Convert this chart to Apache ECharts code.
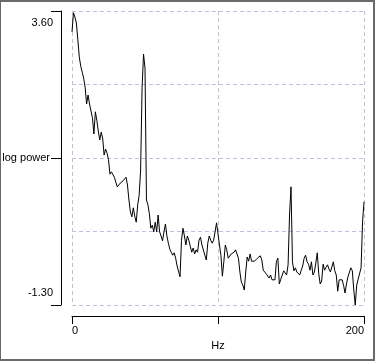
<!DOCTYPE html>
<html>
<head>
<meta charset="utf-8">
<script src="https://cdn.jsdelivr.net/npm/echarts@6/dist/echarts.min.js"></script>
<style>
  html, body { margin: 0; padding: 0; background: #fff; }
  #wrap { position: relative; width: 375px; height: 361px; }
  #chart { position: absolute; left: 0; top: 0; width: 375px; height: 361px; }
  #frame { position: absolute; left: 0; top: 0; width: 375px; height: 361px; box-sizing: border-box;
           border: 2px solid #6a6a6a; border-left-width: 1px; pointer-events: none; }
</style>
</head>
<body>
<div id="wrap"><div id="chart"></div><div id="frame"></div></div>
<script>
// Log power spectrum, 0..200 Hz (1 Hz steps)
const power = [
  3.25, 3.57, 3.50, 3.40, 3.12, 2.83, 2.68, 2.58, 2.48, 2.33,
  2.05, 2.20, 2.05, 2.07, 1.82, 1.55, 1.92, 1.78, 1.60, 1.45,
  1.58, 1.48, 1.20, 1.30, 1.23, 1.12, 0.88, 0.92, 0.92, 0.83,
  0.80, 0.67, 0.68, 0.73, 0.75, 0.77, 0.80, 0.83, 0.70, 0.45,
  0.25, 0.17, 0.32, 0.18, 0.08, 0.37, 0.53, 0.95, 2.32, 2.88,
  2.65, 0.45, 0.37, 0.22, -0.02, 0.03, -0.08, 0.08, -0.08, 0.20,
  -0.08, -0.15, -0.23, -0.08, 0.05, -0.15, -0.27, -0.37, -0.42, -0.47,
  -0.43, -0.52, -0.65, -0.68, -0.83, -0.22, -0.02, -0.15, -0.30, -0.15,
  -0.22, -0.32, -0.42, -0.35, -0.45, -0.38, -0.42, -0.22, -0.17, -0.30,
  -0.33, -0.47, -0.55, -0.27, -0.15, -0.22, -0.27, -0.22, -0.08, 0.07,
  0.07, -0.30, -0.47, -0.82, -0.58, -0.30, -0.38, -0.52, -0.55, -0.45,
  -0.48, -0.42, -0.38, -0.37, -0.52, -0.75, -0.92, -0.97, -1.05, -0.75,
  -0.50, -0.57, -0.45, -0.57, -0.58, -0.57, -0.55, -0.52, -0.50, -0.48,
  -0.55, -0.72, -0.72, -0.78, -0.75, -0.85, -0.80, -0.88, -0.90, -0.88,
  -0.58, -0.52, -0.95, -0.87, -0.80, -0.73, -0.75, -0.80, -0.63, 0.20,
  0.67, -0.58, -0.73, -0.68, -0.75, -0.72, -0.80, -0.72, -0.65, -0.52,
  -0.47, -0.58, -0.62, -0.72, -0.58, -0.80, -0.75, -0.60, -0.43, -0.78,
  -0.95, -0.90, -0.62, -0.72, -0.67, -0.63, -0.70, -0.75, -0.78, -0.58,
  -0.73, -0.80, -1.07, -0.88, -0.87, -0.88, -0.97, -1.10, -0.95, -0.83,
  -0.83, -0.68, -0.73, -1.05, -1.30, -0.97, -0.87, -0.90, -0.68, 0.08,
  0.42
];
const freqStep = 1; // Hz per sample
const freqs = power.map((_, i) => i * freqStep);

const xTickValues = [0, 100, 200];
const xLabelValues = [0, 200];
const xLabels = ['0', '200'];
const xName = 'Hz';

const yMin = -1.3, yMax = 3.6;
const yTickValues = [-1.3, 1.15, 3.6];
const yLabels = ['-1.30', 'log power', '3.60'];

const FONT = "'Liberation Sans', Arial, sans-serif";
const gridColor = '#c4bddb';

const chart = echarts.init(document.getElementById('chart'), null, { renderer: 'canvas' });
chart.setOption({
  animation: false,
  backgroundColor: '#fff',
  grid: { left: 72, right: 11, top: 11, bottom: 56, containLabel: false, outerBoundsMode: 'none' },
  xAxis: [{
    type: 'value', min: 0, max: 200, interval: 50, offset: 11,
    axisLine: { show: true, onZero: false, lineStyle: { color: '#000', width: 1 } },
    axisTick: { show: true, customValues: xTickValues, length: 8, lineStyle: { color: '#000', width: 1 } },
    axisLabel: {
      customValues: xLabelValues, color: '#000', fontSize: 11, fontFamily: FONT, margin: 9,
      alignMinLabel: 'left', alignMaxLabel: 'right',
      formatter: v => xLabels[xLabelValues.indexOf(v)]
    },
    splitLine: { show: true, lineStyle: { color: gridColor, type: [4, 3], width: 1 } },
    name: xName, nameLocation: 'middle', nameGap: 15,
    nameTextStyle: { color: '#000', fontSize: 11, fontFamily: FONT, verticalAlign: 'top' }
  }],
  yAxis: [
    {
      type: 'value', min: 0, max: 4, interval: 1,
      axisLine: { show: false }, axisTick: { show: false }, axisLabel: { show: false },
      splitLine: { show: true, lineStyle: { color: gridColor, type: [4, 3], width: 1 } }
    },
    {
      type: 'value', min: yMin, max: yMax, offset: 11, position: 'left',
      axisLine: { show: true, onZero: false, lineStyle: { color: '#000', width: 1 } },
      axisTick: { show: true, customValues: yTickValues, length: 10, lineStyle: { color: '#000', width: 1 } },
      axisLabel: {
        customValues: yTickValues, color: '#000', fontSize: 11, fontFamily: FONT, margin: 8, lineHeight: 24,
        formatter: v => {
          let i = 0, best = 1e9;
          yTickValues.forEach((t, k) => { if (Math.abs(t - v) < best) { best = Math.abs(t - v); i = k; } });
          if (i === 2) return '\n' + yLabels[i];
          if (i === 0) return yLabels[i] + '\n';
          return '{lp|' + yLabels[i] + '}';
        },
        rich: { lp: { padding: [0, 3, 0, 0], fontSize: 11, fontFamily: FONT, color: '#000' } }
      },
      splitLine: { show: false }
    }
  ],
  series: [{
    type: 'line', yAxisIndex: 1, xAxisIndex: 0,
    data: freqs.map((f, i) => [f, power[i]]),
    showSymbol: false, symbol: 'none',
    lineStyle: { color: '#000', width: 1 },
    emphasis: { disabled: true }
  }]
});
</script>
</body>
</html>
